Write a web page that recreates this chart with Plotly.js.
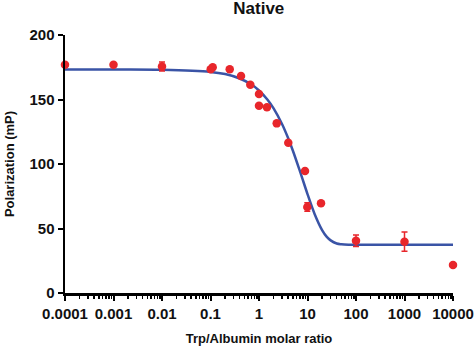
<!DOCTYPE html>
<html>
<head>
<meta charset="utf-8">
<script src="https://cdn.plot.ly/plotly-3.0.1.min.js"></script>
<style>html,body{margin:0;padding:0;background:#fff;}#chart{width:474px;height:346px;}</style>
</head>
<body>
<div id="chart"></div>
<script>
// Measured points (Trp/Albumin molar ratio vs polarization, mP)
var ratio = [0.0001, 0.001, 0.01, 0.101, 0.111, 0.249, 0.426, 0.662, 1.0, 1.0, 1.46, 2.32, 4.02, 8.88, 9.9, 19, 100, 1000, 10000];
var polarization = [177, 177, 175.6, 173.4, 175, 173.4, 168.2, 161.5, 154.3, 145.2, 144, 131.5, 116.5, 94.6, 66.6, 69.5, 40.5, 39.8, 21.7];
var errorValues = [0, 0, 3.5, 0, 0, 0, 0, 0, 0, 0, 0, 0, 0, 0, 3.3, 0, 4.5, 7.5, 0];

// Fitted curve
var fitRatio = [0.0001, 0.001, 0.01, 0.1, 0.2, 0.4, 0.7, 1, 1.5, 2, 3, 4, 5, 7, 10, 14, 20, 25, 30, 40, 50, 70, 100, 1000, 10000];
var fitPolarization = [173.2, 173.2, 173.0, 171.4, 169.7, 166.3, 161.6, 157.0, 149.8, 143.1, 130.8, 119.9, 110.3, 94.3, 76.7, 61.3, 48.8, 43.5, 40.8, 38.4, 37.8, 37.5, 37.5, 37.5, 37.5];

// Tick labels
var xTickVals = [0.0001, 0.001, 0.01, 0.1, 1, 10, 100, 1000, 10000];
var xTickText = ["0.0001", "0.001", "0.01", "0.1", "1", "10", "100", "1000", "10000"];
var yTickVals = [0, 50, 100, 150, 200];

var font = "Arial, 'Liberation Sans', sans-serif";
var red = "#e8262b";
var blue = "#3a54a6";

var traces = [
  {
    x: fitRatio, y: fitPolarization, type: "scatter", mode: "lines",
    line: {color: blue, width: 2.5, shape: "spline", smoothing: 1},
    hoverinfo: "skip", cliponaxis: false
  },
  {
    x: ratio, y: polarization, type: "scatter", mode: "markers",
    marker: {color: red, size: 8.5},
    error_y: {type: "data", array: errorValues, visible: true, color: red, thickness: 1.5, width: 3},
    cliponaxis: false
  }
];

var layout = {
  width: 474, height: 346,
  margin: {l: 65, r: 21, t: 35, b: 53},
  paper_bgcolor: "#fff", plot_bgcolor: "#fff",
  showlegend: false,
  title: {text: "<b>Native</b>", x: 0.546, xanchor: "center", y: 0.976, yanchor: "middle",
          font: {family: font, size: 17, color: "#111"}},
  xaxis: {
    type: "log", range: [-4, 4],
    tickvals: xTickVals, ticktext: xTickText,
    ticks: "outside", ticklen: 5, tickwidth: 2, tickcolor: "#000",
    showgrid: false, zeroline: false,
    showline: true, linecolor: "#000", linewidth: 2.5,
    tickfont: {family: font, size: 15, color: "#111", weight: "bold"},
    minor: {dtick: "D1", ticks: "outside", ticklen: 3, tickwidth: 1.5, tickcolor: "#000", showgrid: false},
    title: {text: "<b>Trp/Albumin molar ratio</b>", standoff: 16, font: {family: font, size: 13, color: "#111"}}
  },
  yaxis: {
    range: [0, 200],
    tickvals: yTickVals,
    ticks: "outside", ticklen: 5, tickwidth: 2, tickcolor: "#000",
    showgrid: false, zeroline: false,
    showline: true, linecolor: "#000", linewidth: 2.5,
    tickfont: {family: font, size: 15, color: "#111", weight: "bold"},
    title: {text: "<b>Polarization (mP)</b>", standoff: 12, font: {family: font, size: 13, color: "#111"}}
  }
};

Plotly.newPlot("chart", traces, layout, {staticPlot: true, displayModeBar: false});
</script>
</body>
</html>
